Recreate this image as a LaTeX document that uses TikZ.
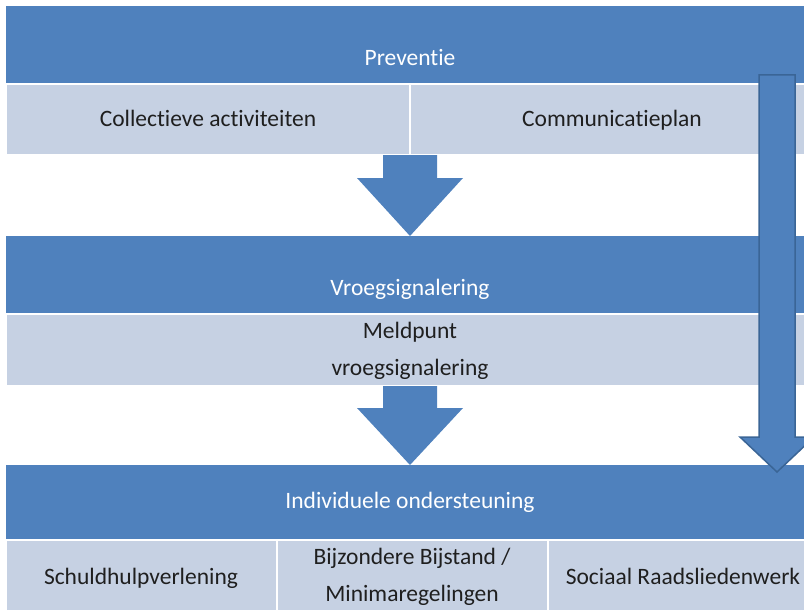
\documentclass[tikz,border=0pt]{standalone}
\usepackage{fontspec}
\setmainfont{Carlito}[Ligatures=NoCommon]
\definecolor{bandblue}{HTML}{4F81BD}
\definecolor{celllight}{HTML}{C6D1E3}
\definecolor{arrowedge}{HTML}{3A6596}
\begin{document}
\begin{tikzpicture}[x=1pt,y=1pt]
\tikzstyle{every node}+=[inner sep=0pt, font=\fontsize{23.5}{28}\selectfont, text height=0.7em, text depth=0.22em]
\tikzstyle{head}=[text=white]
\tikzstyle{celltext}=[text=black!88]
\tikzstyle{cell}=[fill=celllight, draw=white, line width=1.2pt]
\tikzstyle{flow}=[fill=bandblue]
\useasboundingbox (0,0) rectangle (804,-610);
\clip (0,0) rectangle (804,-610);
% Preventie
\fill [bandblue] (6,-6) rectangle (830,-84);
\draw (410,-63) node [head] (prev) {Preventie};
\draw [cell] (6,-84) rectangle (410,-155);
\draw [cell] (410,-84) rectangle (830,-155);
\draw (208,-124) node [celltext] (coll) {Collectieve activiteiten};
\draw (612,-124) node [celltext] (comm) {Communicatieplan};
\fill [flow] (383,-155) -- (437,-155) -- (437,-178) -- (463,-178) -- (410,-236) -- (357,-178) -- (383,-178) -- cycle;
% Vroegsignalering
\fill [bandblue] (6,-236) rectangle (830,-314);
\draw (410,-293) node [head] (vroeg) {Vroegsignalering};
\draw [cell] (6,-314) rectangle (830,-386);
\draw (410,-336) node [celltext] (meld1) {Meldpunt};
\draw (410,-373) node [celltext] (meld2) {vroegsignalering};
\fill [flow] (383,-386) -- (437,-386) -- (437,-408) -- (463,-408) -- (410,-465) -- (357,-408) -- (383,-408) -- cycle;
% Individuele ondersteuning
\fill [bandblue] (6,-465) rectangle (830,-540);
\draw (410,-506) node [head] (indiv) {Individuele ondersteuning};
\draw [cell] (6,-540) rectangle (277,-630);
\draw [cell] (277,-540) rectangle (548,-630);
\draw [cell] (548,-540) rectangle (830,-630);
\draw (141,-582) node [celltext] (schuld) {Schuldhulpverlening};
\draw (412,-562) node [celltext] (bijz1) {Bijzondere Bijstand /};
\draw (412,-599) node [celltext] (bijz2) {Minimaregelingen};
\draw (683,-582) node [celltext] (raads) {Sociaal Raadsliedenwerk};
% long arrow
\draw [flow, draw=arrowedge, line width=1.5pt, line join=miter] (759,-75) -- (795,-75) -- (795,-437) -- (814,-437) -- (777,-472) -- (740,-437) -- (759,-437) -- cycle;
\end{tikzpicture}
\end{document}
